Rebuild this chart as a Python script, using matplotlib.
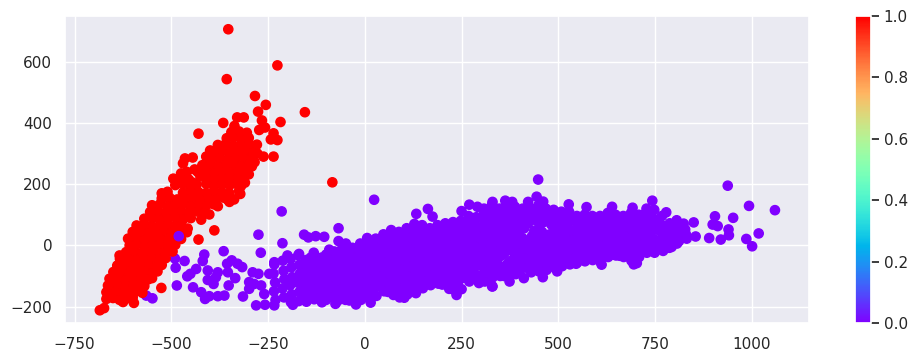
import matplotlib
matplotlib.use('Agg')
import matplotlib.pyplot as plt
import numpy as np
import seaborn as sns

sns.set_theme()
plt.rcParams['ytick.right'] = True
plt.rcParams['ytick.major.size'] = 6
plt.rcParams['ytick.major.width'] = 1.25

# outliers and edge points of the red cluster
red_sparse = [(-353,706),(-226,588),(-357,543),(-284,488),(-256,459),(-276,437),(-155,435),(-266,408),
              (-218,403),(-330,418),(-313,418),(-366,400),(-337,390),(-258,385),(-273,377),(-430,365),
              (-236,366),(-243,346),(-226,344),(-279,329),(-262,290),(-236,290),(-445,287),(-465,284),
              (-470,268),(-84,206),(-389,49),(-430,19),(-526,-139),(-597,-188),(-685,-212),(-674,-205),
              (-634,-33),(-458,55),(-423,84),(-402,101),(-350,142)]

# dense part of the red cluster, read row by row
red_dense = [(-668,-175),(-651,-172),(-634,-178),(-617,-174),(-600,-170),
             (-668,-153),(-645,-150),(-625,-156),(-608,-152),(-590,-149),(-575,-155),
             (-664,-131),(-640,-128),(-622,-134),(-600,-130),(-585,-127),(-570,-133),
             (-660,-109),(-640,-106),(-620,-112),(-600,-108),(-580,-105),(-560,-111),(-550,-107),
             (-650,-87),(-630,-84),(-610,-90),(-590,-86),(-570,-83),(-550,-89),(-536,-85),
             (-640,-66),(-620,-63),(-600,-69),(-580,-65),(-560,-62),(-540,-68),(-525,-64),
             (-633,-44),(-612,-41),(-592,-47),(-572,-43),(-552,-40),(-532,-46),(-515,-42),
             (-617,-22),(-597,-19),(-577,-25),(-557,-21),(-537,-18),(-517,-24),(-497,-20),
             (-608,0),(-590,3),(-570,-3),(-550,1),(-530,4),(-510,-2),(-490,2),
             (-612,22),(-590,25),(-570,19),(-550,23),(-530,26),(-510,20),(-490,24),(-475,21),
             (-600,44),(-580,47),(-560,41),(-540,45),(-520,48),(-500,42),(-480,46),(-460,43),
             (-590,65),(-570,68),(-550,62),(-530,66),(-510,69),(-490,63),(-475,67),
             (-570,87),(-550,90),(-530,84),(-510,88),(-490,91),(-470,85),(-450,89),
             (-555,109),(-535,112),(-515,106),(-495,110),(-475,113),(-455,107),(-435,111),(-415,108),
             (-550,131),(-530,134),(-510,128),(-490,132),(-470,135),(-450,129),(-430,133),(-410,130),(-390,134),(-380,128),
             (-525,153),(-505,156),(-485,150),(-465,154),(-445,157),(-425,151),(-405,155),(-385,152),(-365,156),(-355,150),
             (-525,170),(-510,175),(-470,172),(-450,178),(-430,174),(-410,171),(-390,177),(-370,173),(-350,170),(-325,178),
             (-490,197),(-470,200),(-450,194),(-435,198),(-410,201),(-390,195),(-370,199),(-350,196),(-330,200),(-320,194),
             (-495,218),(-475,221),(-455,215),(-410,222),(-390,216),(-370,220),(-350,217),(-330,221),(-315,215),
             (-475,235),(-432,240),(-410,243),(-390,237),(-370,241),(-350,238),(-330,242),(-310,236),(-305,243),
             (-420,262),(-400,265),(-380,259),(-360,263),(-340,266),(-320,260),(-300,264),
             (-395,284),(-375,287),(-355,281),(-335,285),(-315,288),(-295,282),
             (-390,306),(-370,309),(-350,303),(-330,307),(-310,310),(-290,304),
             (-380,328),(-360,331),(-340,325),(-320,329),(-300,332),
             (-357,350),(-340,353),(-320,347),(-300,351),
             (-345,370),(-325,372),(-305,368),
             (-292,258),(-285,272),(-278,300),(-300,232),(-310,205),(-322,168),(-338,150),
             (-440,248),(-425,225),(-445,205),(-460,240),(-400,310),(-410,290),
             (-656,-160),(-625,-185),(-650,-118),(-645,-96),(-628,-72),(-620,-52)]

# outliers and edge points of the purple cluster
purple_sparse = [(-491,-43),(-466,-51),(-489,-73),(-486,-131),(-565,-164),(-549,-173),(-415,-30),(-419,-51),
                 (-365,-19),(-269,-24),(-275,35),(-213,7),(-215,111),(-157,35),(-146,26),(-127,30),(-105,28),
                 (-68,56),(-68,14),(-49,6),(-79,-20),(-436,-77),(-451,-93),(-459,-101),(-444,-137),(-423,-153),
                 (-413,-175),(-402,-166),(-380,-166),(-363,-164),(-406,-82),(-380,-88),(-406,-113),(-391,-126),
                 (-385,-104),(-352,-131),(-335,-107),(-354,-88),(-356,-60),(-344,-49),(-329,-60),(-317,-71),
                 (-290,-88),(-275,-93),(-299,-120),(-299,-142),(-315,-167),(-281,-196),(-258,-194),(-234,-196),
                 (-268,-131),(-260,-159),(-286,-126),(-247,-93),(-234,-55),(-200,-33),(-170,-28),
                 (24,149),(133,103),(163,119),(175,94),(250,112),(270,133),(330,142),(308,120),(291,126),
                 (6,24),(330,-134),(295,-123),(237,-162),(250,-143),(218,-142),(132,-156),(102,-171),(74,-162),
                 (15,-187),(-23,-193),(-76,-191),(-186,-194),
                 (448,215),(444,159),(461,143),(938,195),(993,129),(1060,115),(952,90),(905,95),(899,68),(912,63),
                 (940,52),(941,33),(920,19),(890,24),(855,29),(850,75),(1018,39),(986,21),(1001,-3),(779,108),
                 (743,146),(692,123),(639,126),(573,125),(527,134),(422,142),(363,146),(329,134),(381,142),
                 (793,-5),(612,-63),(695,-62),(703,-58),(497,-85),(460,-104),(374,-118),(329,-134),(411,-107),
                 (546,-60),(806,82),(824,71)]

# dense band of the purple cluster, read column by column
purple_dense = [(-234,-62),(-236,-92),(-232,-121),(-235,-150),(-231,-178),
                (-212,-50),(-210,-83),(-208,-110),(-213,-141),(-209,-170),
                (-192,-44),(-190,-72),(-188,-104),(-193,-130),(-189,-160),(-191,-186),
                (-172,-32),(-170,-64),(-168,-93),(-173,-122),(-169,-152),(-171,-182),
                (-152,-48),(-150,-78),(-148,-106),(-153,-136),(-149,-166),(-151,-184),
                (-132,-24),(-130,-55),(-128,-84),(-133,-115),(-129,-144),(-131,-176),
                (-112,-40),(-110,-70),(-108,-98),(-113,-130),(-109,-158),(-111,-186),
                (-92,-14),(-90,-46),(-88,-76),(-93,-106),(-89,-136),(-91,-168),
                (-72,-28),(-70,-60),(-68,-90),(-73,-118),(-69,-150),(-71,-182),
                (-52,2),(-50,-34),(-48,-66),(-53,-96),(-49,-128),(-51,-160),(-50,-178),
                (-32,-8),(-30,-40),(-28,-72),(-33,-102),(-29,-134),(-31,-166),
                (-12,6),(-10,-26),(-8,-58),(-13,-88),(-9,-120),(-11,-150),(-10,-178),
                (8,14),(10,-16),(12,-48),(7,-78),(11,-110),(9,-142),(10,-172),
                (28,22),(30,-8),(32,-38),(27,-68),(31,-100),(29,-130),(30,-165),
                (48,36),(50,6),(52,-24),(47,-56),(51,-88),(49,-118),(50,-150),
                (68,50),(70,18),(72,-12),(67,-44),(71,-76),(69,-106),(70,-140),
                (88,44),(90,14),(92,-18),(87,-50),(91,-80),(89,-112),(90,-145),(90,-170),
                (108,56),(110,26),(112,-6),(107,-36),(111,-68),(109,-100),(110,-130),(110,-160),
                (128,70),(130,38),(132,8),(127,-24),(131,-56),(129,-86),(130,-118),(130,-148),
                (148,66),(150,34),(152,4),(147,-28),(151,-58),(149,-90),(150,-120),(150,-140),
                (168,56),(170,26),(172,-6),(167,-36),(171,-66),(169,-98),(170,-130),
                (188,66),(190,34),(192,2),(187,-30),(191,-60),(189,-92),(190,-125),
                (208,72),(210,40),(212,8),(207,-24),(211,-54),(209,-86),(210,-118),
                (228,76),(230,44),(232,14),(227,-18),(231,-48),(229,-80),(230,-112),(230,-145),
                (248,80),(250,48),(252,18),(247,-14),(251,-44),(249,-76),(250,-108),
                (268,96),(270,64),(272,32),(267,2),(271,-30),(269,-60),(270,-92),(270,-118),
                (288,92),(290,60),(292,28),(287,-4),(291,-34),(289,-66),(290,-98),
                (308,106),(310,76),(312,44),(307,12),(311,-20),(309,-50),(310,-82),(310,-118),
                (328,116),(330,84),(332,52),(327,20),(331,-10),(329,-42),(330,-74),(330,-105),
                (348,120),(350,90),(352,58),(347,26),(351,-6),(349,-36),(350,-68),(350,-100),
                (368,126),(370,94),(372,62),(367,30),(371,-2),(369,-60),(370,-92),
                (388,126),(390,96),(392,66),(387,34),(391,2),(389,-32),(390,-64),(390,-94),
                (408,120),(410,88),(412,56),(407,24),(411,-8),(409,-40),(410,-72),
                (428,120),(430,90),(432,30),(427,0),(431,-30),(429,-60),(430,-88),
                (448,130),(450,98),(452,66),(447,34),(451,2),(449,-30),(450,-62),(450,-85),
                (468,120),(470,90),(472,28),(467,-4),(471,-34),(469,-60),(470,-80),
                (488,116),(490,84),(492,52),(487,20),(491,-10),(489,-42),(490,-72),
                (508,110),(510,78),(512,46),(507,14),(511,-16),(509,-48),(510,-68),
                (528,110),(530,80),(532,48),(527,16),(531,-14),(529,-44),(530,-62),
                (548,96),(550,66),(552,34),(547,2),(551,-28),(549,-56),
                (568,100),(570,68),(572,36),(567,4),(571,-26),(569,-52),
                (588,96),(590,64),(592,32),(587,0),(591,-30),(589,-48),
                (608,96),(610,64),(612,34),(607,2),(611,-28),(609,-54),
                (628,106),(630,76),(632,44),(627,12),(631,-18),(629,-38),
                (648,100),(650,70),(652,38),(647,6),(651,-20),(649,-33),
                (668,96),(670,64),(672,32),(667,0),(671,-28),(669,-38),
                (688,106),(690,74),(692,42),(687,10),(691,-22),(689,-50),
                (708,100),(710,68),(712,36),(707,4),(711,-26),(709,-38),
                (728,120),(730,88),(732,56),(727,24),(731,-6),(729,-24),
                (748,116),(750,84),(752,52),(747,20),(751,-8),(749,-24),
                (768,96),(770,64),(772,32),(767,2),(771,-18),
                (788,72),(790,44),(792,16),(787,-8),
                (808,66),(810,40),(812,14),(807,6),
                (828,52),(830,36),(832,22)]

# second pass over the band, the gaps between the columns above
purple_gaps = [(-160,-62),(-162,-92),(-158,-120),(-161,-150),(-159,-176),
               (-140,-40),(-142,-70),(-138,-100),(-141,-130),(-139,-160),
               (-120,-54),(-122,-84),(-118,-114),(-121,-144),(-119,-172),
               (-100,-30),(-102,-60),(-98,-90),(-101,-120),(-99,-150),(-100,-178),
               (-80,-44),(-82,-74),(-78,-104),(-81,-134),(-79,-165),
               (-60,-14),(-62,-46),(-58,-78),(-61,-108),(-59,-140),(-60,-172),
               (-40,-22),(-42,-54),(-38,-84),(-41,-116),(-39,-148),(-40,-180),
               (-20,-10),(-22,-42),(-18,-72),(-21,-104),(-19,-136),(-20,-165),
               (0,0),(2,-32),(-2,-64),(1,-94),(-1,-126),(0,-158),
               (20,6),(22,-24),(18,-54),(21,-84),(19,-116),(20,-148),
               (40,20),(42,-10),(38,-40),(41,-72),(39,-102),(40,-134),
               (60,32),(62,2),(58,-28),(61,-60),(59,-90),(60,-124),(60,-152),
               (80,30),(82,0),(78,-32),(81,-64),(79,-96),(80,-128),(80,-158),
               (100,40),(102,10),(98,-22),(101,-52),(99,-84),(100,-116),(100,-146),
               (120,54),(122,20),(118,-10),(121,-40),(119,-72),(120,-102),(120,-134),
               (140,50),(142,18),(138,-12),(141,-42),(139,-74),(140,-104),(140,-135),
               (160,44),(162,12),(158,-20),(161,-50),(159,-82),(160,-114),
               (180,48),(182,18),(178,-14),(181,-46),(179,-76),(180,-108),
               (200,54),(202,22),(198,-8),(201,-38),(199,-70),(200,-102),(200,-128),
               (220,60),(222,30),(218,-2),(221,-32),(219,-64),(220,-96),(220,-128),
               (240,64),(242,32),(238,0),(241,-30),(239,-62),(240,-92),(240,-122),
               (260,76),(262,46),(258,16),(261,-14),(259,-46),(260,-76),(260,-105),
               (280,76),(282,44),(278,12),(281,-18),(279,-50),(280,-82),(280,-108),
               (300,90),(302,58),(298,28),(301,-4),(299,-36),(300,-66),(300,-100),
               (320,100),(322,68),(318,36),(321,4),(319,-26),(320,-58),(320,-90),
               (340,104),(342,74),(338,42),(341,10),(339,-22),(340,-52),(340,-84),
               (360,108),(362,76),(358,44),(361,14),(359,-30),(360,-78),(360,-100),
               (380,110),(382,80),(378,50),(381,18),(379,-16),(380,-48),(380,-78),
               (400,104),(402,72),(398,40),(401,8),(399,-24),(400,-56),(400,-84),
               (420,104),(422,72),(418,14),(421,-14),(419,-46),(420,-74),
               (440,112),(442,82),(438,48),(441,16),(439,-14),(440,-46),(440,-74),
               (460,106),(462,76),(458,44),(461,12),(459,-20),(460,-50),
               (480,100),(482,68),(478,36),(481,4),(479,-26),(480,-56),
               (500,94),(502,62),(498,30),(501,-2),(499,-32),(500,-60),
               (520,94),(522,62),(518,32),(521,0),(519,-30),(520,-52),
               (540,82),(542,50),(538,18),(541,-14),(539,-42),
               (560,82),(562,50),(558,20),(561,-12),(559,-42),
               (580,80),(582,48),(578,16),(581,-14),(579,-40),
               (600,78),(602,48),(598,18),(601,-14),(599,-42),
               (620,90),(622,60),(618,28),(621,-4),(619,-32),
               (640,86),(642,54),(638,22),(641,-6),(639,-30),
               (660,84),(662,50),(658,16),(661,-14),(659,-34),
               (680,90),(682,58),(678,26),(681,-6),(679,-34),
               (700,84),(702,52),(698,20),(701,-12),(699,-30),
               (720,100),(722,72),(718,40),(721,8),(719,-16),
               (740,100),(742,68),(738,36),(741,6),(739,-18),
               (760,80),(762,48),(758,16),(761,-12),
               (780,58),(782,28),(778,2),
               (800,54),(802,28)]

# the single purple point on top of the red cluster
purple_top = [(-481,30)]

cbar_ticks = [0.0, 0.2, 0.4, 0.6, 0.8, 1.0]
x_ticks = [-750, -500, -250, 0, 250, 500, 750, 1000]
y_ticks = [-200, 0, 200, 400, 600]

purple = purple_sparse + purple_dense + purple_gaps
red = red_dense + red_sparse
points = purple + red + purple_top
labels = [0] * len(purple) + [1] * len(red) + [0]
x = np.array([p[0] for p in points])
y = np.array([p[1] for p in points])

fig = plt.figure(figsize=(9.18, 3.62), dpi=100)
ax = fig.add_axes([65.4 / 918, 1 - 323.4 / 362, 743.2 / 918, 307.4 / 362])
sc = ax.scatter(x, y, c=labels, cmap='rainbow', s=44)
ax.set_xlim(-774, 1147)
ax.set_ylim(-254.9, 749.3)
ax.set_xticks(x_ticks)
ax.set_yticks(y_ticks)
ax.tick_params(right=False)

cax = fig.add_axes([855.4 / 918, 1 - 323.4 / 362, 15.2 / 918, 307.4 / 362])
cb = fig.colorbar(sc, cax=cax)
cb.set_ticks(cbar_ticks)
# colorbar keeps its tick marks in the reference
cax.yaxis.set_ticks_position('right')
cax.tick_params(axis='y', which='major', right=True, length=6, width=1.25, color='#262626')

fig.savefig('out.png', dpi=100)
